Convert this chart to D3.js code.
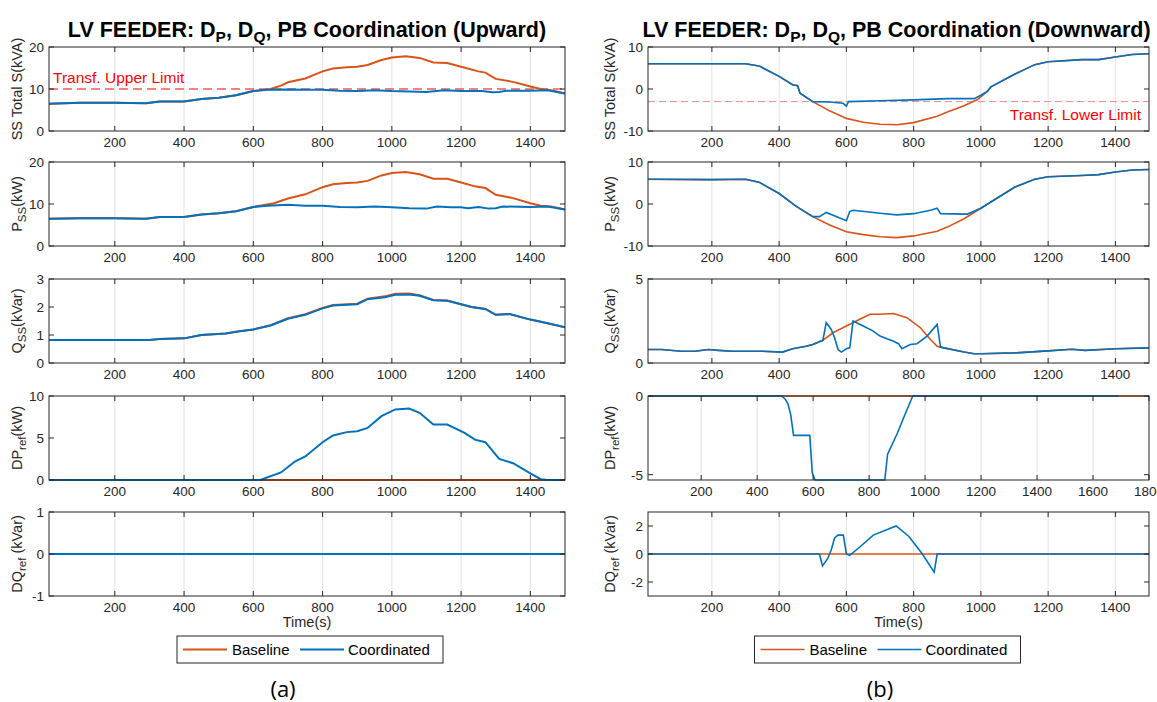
<!DOCTYPE html>
<html>
<head>
<meta charset="utf-8">
<script src="https://cdn.jsdelivr.net/npm/d3@7"></script>
<style>
  body { margin: 0; background: #fff; }
  svg { font-family: "Liberation Sans", Arial, sans-serif; }
</style>
</head>
<body>
<div id="chart"></div>
<script>
// ---- data: [time (s), value] ----
// (a) upward case
const upS_base = [[10,6.5],[100,6.7],[200,6.7],[290,6.6],[330,7.0],[400,7.0],[450,7.6],[500,7.9],[550,8.5],[600,9.5],[650,10.0],[680,10.8],[700,11.6],[750,12.5],[800,14.2],[830,14.9],[870,15.2],[900,15.3],[930,15.7],[970,16.9],[1000,17.5],[1040,17.8],[1080,17.4],[1120,16.3],[1160,16.2],[1200,15.3],[1250,14.2],[1270,13.9],[1300,12.4],[1350,11.7],[1400,10.6],[1430,10.0],[1460,9.7],[1500,8.9]];
const upS_coord = [[10,6.5],[100,6.7],[200,6.7],[290,6.6],[330,7.0],[400,7.0],[450,7.6],[500,7.9],[550,8.5],[600,9.5],[640,9.8],[700,9.9],[750,9.8],[800,9.8],[850,9.6],[900,9.5],[950,9.7],[1000,9.5],[1050,9.4],[1100,9.3],[1150,9.7],[1200,9.5],[1260,9.5],[1290,9.2],[1310,9.3],[1330,9.6],[1400,9.6],[1450,9.7],[1500,8.9]];
const upP_base = [[10,6.5],[100,6.6],[200,6.6],[290,6.5],[330,6.9],[400,6.9],[450,7.5],[500,7.8],[550,8.3],[600,9.3],[660,10.2],[700,11.3],[750,12.3],[800,14.0],[830,14.7],[870,15.0],[900,15.1],[930,15.5],[970,16.8],[1000,17.4],[1040,17.6],[1080,17.1],[1120,16.0],[1160,16.0],[1200,15.1],[1240,14.2],[1270,13.8],[1300,12.2],[1350,11.4],[1400,10.2],[1430,9.6],[1460,9.4],[1500,8.7]];
const upP_coord = [[10,6.5],[100,6.6],[200,6.6],[290,6.5],[330,6.9],[400,6.9],[450,7.5],[500,7.8],[550,8.3],[600,9.3],[640,9.6],[700,9.8],[750,9.6],[800,9.6],[850,9.3],[900,9.2],[950,9.4],[1000,9.2],[1050,9.0],[1100,8.9],[1130,9.4],[1170,9.2],[1200,9.2],[1220,9.0],[1250,9.3],[1280,8.9],[1300,9.0],[1320,9.4],[1400,9.3],[1450,9.4],[1500,8.7]];
const upQ_base = [[10,0.82],[300,0.82],[330,0.86],[400,0.88],[450,1.0],[520,1.05],[560,1.13],[600,1.2],[650,1.35],[700,1.6],[750,1.74],[800,1.97],[830,2.07],[900,2.12],[930,2.3],[980,2.38],[1010,2.47],[1050,2.48],[1080,2.42],[1120,2.25],[1160,2.23],[1200,2.1],[1230,2.0],[1270,1.93],[1300,1.72],[1340,1.75],[1400,1.55],[1450,1.42],[1500,1.28]];
const upQ_coord = [[10,0.82],[300,0.82],[330,0.86],[400,0.88],[450,1.0],[520,1.05],[560,1.13],[600,1.2],[650,1.34],[700,1.58],[750,1.72],[800,1.95],[830,2.05],[900,2.1],[930,2.28],[980,2.35],[1010,2.44],[1050,2.45],[1080,2.4],[1120,2.24],[1160,2.22],[1200,2.1],[1230,2.0],[1270,1.93],[1300,1.72],[1340,1.75],[1400,1.55],[1450,1.42],[1500,1.28]];
const upDP_base = [[10,0],[1500,0]];
const upDP_coord = [[10,0],[620,0],[680,0.9],[720,2.2],[750,2.8],[800,4.5],[830,5.3],[870,5.7],[900,5.8],[930,6.2],[970,7.6],[1010,8.4],[1050,8.5],[1080,8.0],[1120,6.6],[1160,6.6],[1210,5.6],[1240,4.8],[1270,4.5],[1310,2.5],[1350,2.0],[1400,0.8],[1430,0.1],[1450,0],[1500,0]];
const upDQ_base = [[10,0],[1500,0]];
const upDQ_coord = [[10,0],[1500,0]];

// (b) downward case
const dnS_base = [[10,6.0],[300,6.0],[340,5.5],[400,3.0],[440,1.0],[455,0.8],[462,-1.0],[500,-3.0],[550,-5.2],[600,-7.0],[650,-7.9],[700,-8.4],[750,-8.5],[800,-8.0],[870,-6.5],[900,-5.5],[950,-4.0],[990,-2.5],[1020,-0.5],[1030,0.5],[1100,3.5],[1160,5.8],[1200,6.5],[1300,7.0],[1350,7.0],[1400,7.6],[1450,8.2],[1500,8.4]];
const dnS_coord = [[10,6.0],[300,6.0],[340,5.5],[400,3.0],[440,1.0],[455,0.8],[462,-1.0],[500,-3.0],[550,-3.1],[590,-3.4],[600,-4.1],[606,-3.0],[700,-2.8],[800,-2.6],[900,-2.3],[980,-2.3],[1000,-1.5],[1020,-0.5],[1030,0.5],[1100,3.5],[1160,5.8],[1200,6.5],[1300,7.0],[1350,7.0],[1400,7.6],[1450,8.2],[1500,8.4]];
const dnP_base = [[10,5.9],[200,5.8],[300,5.9],[340,5.2],[400,2.5],[450,-0.5],[500,-3.0],[550,-5.0],[600,-6.6],[650,-7.3],[700,-7.8],[750,-8.0],[800,-7.6],[870,-6.5],[900,-5.5],[950,-3.5],[970,-2.5],[1000,-1.0],[1050,1.5],[1100,4.0],[1160,5.9],[1200,6.5],[1300,6.8],[1350,7.0],[1400,7.6],[1450,8.1],[1500,8.2]];
const dnP_coord = [[10,5.9],[200,5.8],[300,5.9],[340,5.2],[400,2.5],[450,-0.5],[500,-3.0],[520,-3.0],[540,-2.0],[600,-4.0],[610,-1.8],[620,-1.5],[700,-2.2],[750,-2.6],[800,-2.3],[850,-1.5],[870,-1.0],[880,-2.3],[960,-2.4],[1000,-1.0],[1050,1.5],[1100,4.0],[1160,5.9],[1200,6.5],[1300,6.8],[1350,7.0],[1400,7.6],[1450,8.1],[1500,8.2]];
const dnQ_base = [[10,0.8],[50,0.8],[110,0.7],[150,0.7],[190,0.8],[220,0.75],[260,0.7],[350,0.7],[410,0.65],[440,0.85],[480,1.0],[500,1.1],[530,1.35],[560,1.8],[600,2.2],[640,2.6],[670,2.9],[700,2.9],[740,2.95],[780,2.7],[820,2.1],[850,1.4],[870,1.0],[890,0.9],[950,0.65],[980,0.55],[1000,0.55],[1100,0.6],[1200,0.72],[1270,0.82],[1310,0.75],[1400,0.85],[1500,0.9]];
const dnQ_coord = [[10,0.8],[50,0.8],[110,0.7],[150,0.7],[190,0.8],[220,0.75],[260,0.7],[350,0.7],[410,0.65],[440,0.85],[480,1.0],[500,1.1],[530,1.35],[540,2.4],[555,2.0],[565,1.5],[575,0.8],[585,0.65],[600,0.85],[610,0.9],[620,2.5],[650,2.2],[680,1.9],[700,1.6],[740,1.3],[755,1.15],[765,0.85],[790,1.1],[810,1.15],[840,1.6],[870,2.3],[880,0.95],[890,0.9],[950,0.65],[980,0.55],[1000,0.55],[1100,0.6],[1200,0.72],[1270,0.82],[1310,0.75],[1400,0.85],[1500,0.9]];
const dnDP_base = [[10,0],[1800,0]];
const dnDP_coord = [[10,0],[488,0],[500,-0.2],[510,-0.5],[520,-1.2],[530,-2.5],[588,-2.5],[597,-4.9],[607,-5.34],[856,-5.34],[866,-3.7],[900,-2.4],[930,-1.1],[956,0],[1690,0]];
const dnDQ_base = [[10,0],[1500,0]];
const dnDQ_coord = [[10,0],[520,0],[529,-0.85],[545,-0.3],[555,0.3],[565,1.15],[575,1.35],[591,1.35],[600,0],[610,-0.1],[640,0.5],[680,1.35],[748,2.0],[786,1.25],[826,0],[861,-1.3],[870,0],[1500,0]];

// axis settings
const xTicks15 = [200, 400, 600, 800, 1000, 1200, 1400];
const xTicks18 = [200, 400, 600, 800, 1000, 1200, 1400, 1600, 1800];
const legendNames = ["Baseline", "Coordinated"];
const colors = ["#D95319", "#0072BD"];

const W = 1157, H = 702;
const svg = d3.select("#chart").append("svg").attr("width", W).attr("height", H);

const rowTops = [47, 162, 279, 396, 512];
const rowH = 84;
const cols = [
  {x0: 49, x1: 565, title: "Upward", tag: "(a)", lw: 2,
   panels: [
     {base: upS_base, coord: upS_coord, y: [0, 20], ticks: [0, 10, 20], label: ["SS Total S(kVA)"], limit: 10, limitText: "Transf. Upper Limit"},
     {base: upP_base, coord: upP_coord, y: [0, 20], ticks: [0, 10, 20], label: ["P", "SS", "(kW)"]},
     {base: upQ_base, coord: upQ_coord, y: [0, 3], ticks: [0, 1, 2, 3], label: ["Q", "SS", "(kVar)"]},
     {base: upDP_base, coord: upDP_coord, y: [0, 10], ticks: [0, 5, 10], label: ["DP", "ref", "(kW)"]},
     {base: upDQ_base, coord: upDQ_coord, y: [-1, 1], ticks: [-1, 0, 1], label: ["DQ", "ref", " (kVar)"]}
   ]},
  {x0: 648, x1: 1149, title: "Downward", tag: "(b)", lw: 1.6,
   panels: [
     {base: dnS_base, coord: dnS_coord, y: [-10, 10], ticks: [-10, 0, 10], label: ["SS Total S(kVA)"], limit: -3, limitText: "Transf. Lower Limit"},
     {base: dnP_base, coord: dnP_coord, y: [-10, 10], ticks: [-10, 0, 10], label: ["P", "SS", "(kW)"]},
     {base: dnQ_base, coord: dnQ_coord, y: [0, 5], ticks: [0, 5], label: ["Q", "SS", "(kVar)"]},
     {base: dnDP_base, coord: dnDP_coord, y: [-5.34, 0], ticks: [-5, 0], label: ["DP", "ref", "(kW)"], xmax: 1800},
     {base: dnDQ_base, coord: dnDQ_coord, y: [-3, 3], ticks: [-2, 0, 2], label: ["DQ", "ref", " (kVar)"]}
   ]}
];

const axisColor = "#262626";

cols.forEach((col, ci) => {
  const cx = (col.x0 + col.x1) / 2;

  // title with subscripts
  const t = svg.append("text")
    .attr("x", cx - (ci === 1 ? 2 : 0)).attr("y", 37)
    .attr("text-anchor", "middle")
    .attr("font-size", 21.5).attr("font-weight", "bold").attr("fill", "#000");
  t.append("tspan").text("LV FEEDER: D");
  t.append("tspan").text("P").attr("font-size", 15.5).attr("dy", 5);
  t.append("tspan").text(", D").attr("dy", -5);
  t.append("tspan").text("Q").attr("font-size", 15.5).attr("dy", 5);
  t.append("tspan").text(", PB Coordination (" + col.title + ")").attr("dy", -5);

  col.panels.forEach((p, pi) => {
    const top = rowTops[pi], bottom = top + rowH;
    const xmax = p.xmax || 1500;
    const x = d3.scaleLinear().domain([10, xmax]).range([col.x0, col.x1]);
    const y = d3.scaleLinear().domain(p.y).range([bottom, top]);
    const ticksX = xmax === 1800 ? xTicks18 : xTicks15;
    const g = svg.append("g");

    // vertical grid
    g.selectAll(".grid").data(ticksX.filter(d => d < xmax)).enter().append("line")
      .attr("x1", d => x(d)).attr("x2", d => x(d))
      .attr("y1", top).attr("y2", bottom)
      .attr("stroke", "#e3e3e3").attr("stroke-width", 1);

    // clip for lines
    const clipId = "clip" + ci + "_" + pi;
    svg.append("clipPath").attr("id", clipId).append("rect")
      .attr("x", col.x0).attr("y", top - 1.5).attr("width", col.x1 - col.x0).attr("height", rowH + 3);

    const line = d3.line().x(d => x(d[0])).y(d => y(d[1]));
    const lg = g.append("g").attr("clip-path", "url(#" + clipId + ")");

    if (p.limit !== undefined) {
      lg.append("line")
        .attr("x1", col.x0).attr("x2", col.x1)
        .attr("y1", y(p.limit)).attr("y2", y(p.limit))
        .attr("stroke", ci === 0 ? "#ff5555" : "#e88a8a")
        .attr("stroke-width", ci === 0 ? 1.6 : 1)
        .attr("stroke-dasharray", ci === 0 ? "9,5" : "7,4");
    }

    lg.append("path").datum(p.base).attr("d", line)
      .attr("fill", "none").attr("stroke", colors[0]).attr("stroke-width", col.lw);
    lg.append("path").datum(p.coord).attr("d", line)
      .attr("fill", "none").attr("stroke", colors[1]).attr("stroke-width", col.lw);

    if (p.limitText) {
      g.append("text")
        .attr("x", ci === 0 ? col.x0 + 4 : col.x1 - 8)
        .attr("y", ci === 0 ? y(p.limit) - 6 : y(p.limit) + 18)
        .attr("text-anchor", ci === 0 ? "start" : "end")
        .attr("font-size", 15.5).attr("fill", "#ff0000")
        .text(p.limitText);
    }

    // box
    g.append("rect").attr("x", col.x0).attr("y", top)
      .attr("width", col.x1 - col.x0).attr("height", rowH)
      .attr("fill", "none").attr("stroke", axisColor).attr("stroke-width", 1);

    // x ticks (bottom & top, inward)
    const tl = 5;
    ticksX.forEach(d => {
      if (d > xmax) return;
      g.append("line").attr("x1", x(d)).attr("x2", x(d)).attr("y1", bottom).attr("y2", bottom - tl).attr("stroke", axisColor);
      g.append("line").attr("x1", x(d)).attr("x2", x(d)).attr("y1", top).attr("y2", top + tl).attr("stroke", axisColor);
      g.append("text").attr("x", x(d)).attr("y", bottom + 16)
        .attr("text-anchor", "middle").attr("font-size", 13.5).attr("fill", axisColor).text(d);
    });
    // y ticks (left & right, inward)
    p.ticks.forEach(d => {
      g.append("line").attr("x1", col.x0).attr("x2", col.x0 + tl).attr("y1", y(d)).attr("y2", y(d)).attr("stroke", axisColor);
      g.append("line").attr("x1", col.x1).attr("x2", col.x1 - tl).attr("y1", y(d)).attr("y2", y(d)).attr("stroke", axisColor);
      g.append("text").attr("x", col.x0 - 5).attr("y", y(d) + 5)
        .attr("text-anchor", "end").attr("font-size", 13.5).attr("fill", axisColor).text(d);
    });

    // y label
    const lx = ci === 0 ? col.x0 - 27 : col.x0 - 33;
    const ly = (top + bottom) / 2;
    const yl = g.append("text")
      .attr("transform", `translate(${lx},${ly}) rotate(-90)`)
      .attr("text-anchor", "middle").attr("font-size", 14.5).attr("fill", axisColor);
    if (p.label.length === 1) {
      yl.text(p.label[0]);
    } else {
      yl.append("tspan").text(p.label[0]);
      yl.append("tspan").text(p.label[1]).attr("font-size", 11.5).attr("dy", 4);
      yl.append("tspan").text(p.label[2]).attr("dy", -4);
    }
  });

  // x-axis title
  svg.append("text").attr("x", cx).attr("y", 627)
    .attr("text-anchor", "middle").attr("font-size", 14.5).attr("fill", axisColor).text("Time(s)");

  // legend
  const lgW = 266, lgX = cx - lgW / 2 + (ci === 0 ? 3 : -11), lgY = 636;
  const leg = svg.append("g").attr("transform", `translate(${lgX},${lgY})`);
  leg.append("rect").attr("width", lgW).attr("height", 27)
    .attr("fill", "#fff").attr("stroke", axisColor).attr("stroke-width", 1);
  const offs = [[6, 55], [123, 171]];
  legendNames.forEach((name, i) => {
    leg.append("line").attr("x1", offs[i][0]).attr("x2", offs[i][0] + 44)
      .attr("y1", 13.5).attr("y2", 13.5).attr("stroke", colors[i]).attr("stroke-width", col.lw);
    leg.append("text").attr("x", offs[i][1]).attr("y", 19)
      .attr("font-size", 15).attr("fill", "#000").text(name);
  });

  // panel tag
  svg.append("text").attr("x", ci === 0 ? 283 : 880).attr("y", 697)
    .attr("text-anchor", "middle").attr("font-family", "'Open Sans', sans-serif")
    .attr("font-size", 22).attr("fill", "#000").text(col.tag);
});
</script>
</body>
</html>
